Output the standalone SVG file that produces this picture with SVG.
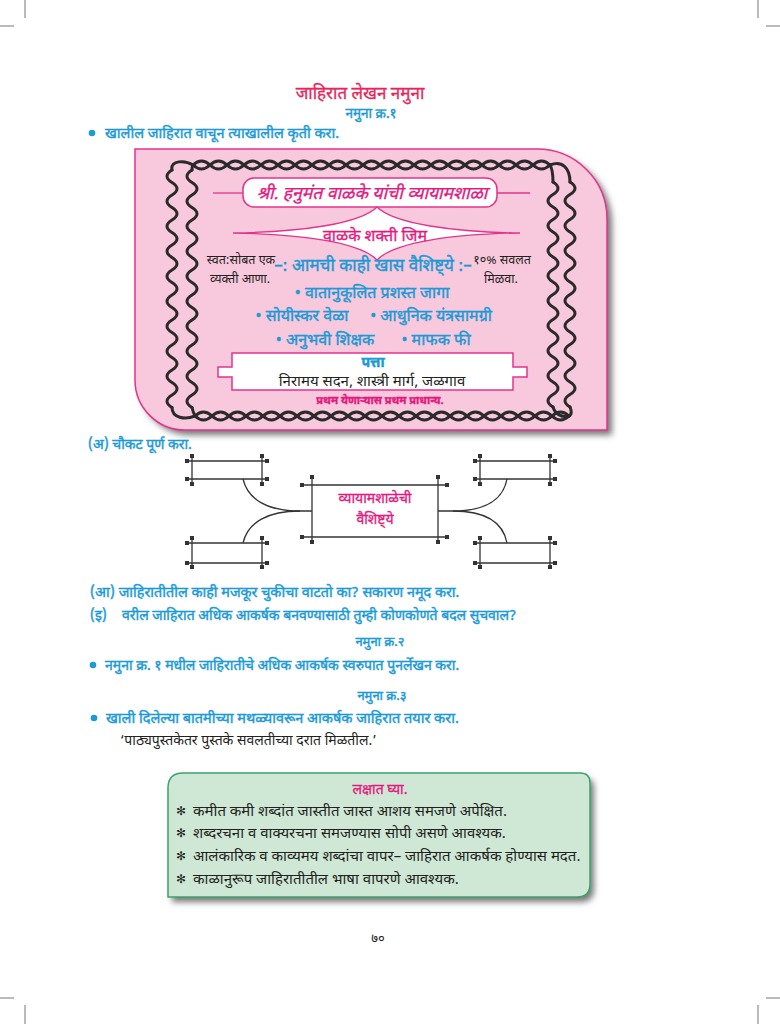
<svg xmlns="http://www.w3.org/2000/svg" xmlns:xlink="http://www.w3.org/1999/xlink" width="780" height="1024" viewBox="0 0 780 1024">
<style>
text{font-family:'Noto Sans Devanagari','Lohit Devanagari','Noto Sans','DejaVu Sans',sans-serif}
.cy{fill:#1b9ad6;stroke:#1b9ad6;stroke-width:0.45}
.mg{fill:#e4197f;stroke:#e4197f;stroke-width:0.35}
.dk{fill:#231f20}
.mid{text-anchor:middle}
.rope{fill:none;stroke:#2a2a2a;stroke-width:3;stroke-linecap:round}
.ln{fill:none;stroke:#333;stroke-width:1.3}
.bx{fill:none;stroke:#333;stroke-width:1.3;marker-start:url(#sq);marker-end:url(#sq)}
.crop{stroke:#777;stroke-width:1}
</style>
<defs>
<marker id="sq" viewBox="0 0 4 4" refX="2" refY="2" markerWidth="4.5" markerHeight="4.5" markerUnits="userSpaceOnUse"><rect width="4" height="4" fill="#333"/></marker>
<filter id="blur" x="-10%" y="-10%" width="120%" height="130%"><feGaussianBlur stdDeviation="3"/></filter>
<path id="pinkShape" d="M135 149 L537 149 A70 70 0 0 1 607 219 L607 430 L185 430 A50 50 0 0 1 135 380 Z"/>
<path id="greenShape" d="M183 773 L580 773 Q590 773 590 783 L590 884 Q590 897 577 897 L168 897 L168 788 Q168 773 183 773 Z"/>
</defs>
<rect width="780" height="1024" fill="#ffffff"/>

<g id="crop-marks">
<line class="crop" x1="25" y1="0" x2="25" y2="18"/>
<line class="crop" x1="0" y1="26" x2="14" y2="26"/>
<line class="crop" x1="758" y1="0" x2="758" y2="18"/>
<line class="crop" x1="766" y1="26" x2="780" y2="26"/>
<line class="crop" x1="0" y1="998" x2="14" y2="998"/>
<line class="crop" x1="25" y1="1005" x2="25" y2="1024"/>
<line class="crop" x1="766" y1="998" x2="780" y2="998"/>
<line class="crop" x1="758" y1="1005" x2="758" y2="1024"/>
</g>

<g id="heading">
<text x="360" y="99" class="mid" font-size="17" fill="#e8245b" stroke="#e8245b" stroke-width="0.3">जाहिरात लेखन नमुना</text>
<text x="371" y="118" class="mid cy" font-size="13.5">नमुना क्र.१</text>
<circle cx="92" cy="133" r="3.3" fill="#1b9ad6"/>
<text x="105" y="138" class="cy" font-size="14.5">खालील जाहिरात वाचून त्याखालील कृती करा.</text>
</g>

<g id="advert">
<use xlink:href="#pinkShape" transform="translate(5,5)" fill="#777" filter="url(#blur)"/>
<use xlink:href="#pinkShape" fill="#f8c8dc" stroke="#e3338c" stroke-width="1.5"/>
<g id="rope-border">
<path class="rope" d="M193 165 q8.5 -8 17 0 t17 0 t17 0 t17 0 t17 0 t17 0 t17 0 t17 0 t17 0 t17 0 t17 0 t17 0 t17 0 t17 0 t17 0 t17 0 t17 0 t17 0 t17 0 t17 0 t17 0"/>
<path class="rope" d="M193 165 q8.5 8 17 0 t17 0 t17 0 t17 0 t17 0 t17 0 t17 0 t17 0 t17 0 t17 0 t17 0 t17 0 t17 0 t17 0 t17 0 t17 0 t17 0 t17 0 t17 0 t17 0 t17 0"/>
<path class="rope" d="M195 416 q8.5 -8 17 0 t17 0 t17 0 t17 0 t17 0 t17 0 t17 0 t17 0 t17 0 t17 0 t17 0 t17 0 t17 0 t17 0 t17 0 t17 0 t17 0 t17 0 t17 0 t17 0 t17 0 t17 0"/>
<path class="rope" d="M195 416 q8.5 8 17 0 t17 0 t17 0 t17 0 t17 0 t17 0 t17 0 t17 0 t17 0 t17 0 t17 0 t17 0 t17 0 t17 0 t17 0 t17 0 t17 0 t17 0 t17 0 t17 0 t17 0 t17 0"/>
<path class="rope" d="M172 170 q-10 6.25 0 12.5 t0 12.5 t0 12.5 t0 12.5 t0 12.5 t0 12.5 t0 12.5 t0 12.5 t0 12.5 t0 12.5 t0 12.5 t0 12.5 t0 12.5 t0 12.5 t0 12.5 t0 12.5 t0 12.5 t0 12.5 t0 12.5"/>
<path class="rope" d="M192 170 q-10 6.25 0 12.5 t0 12.5 t0 12.5 t0 12.5 t0 12.5 t0 12.5 t0 12.5 t0 12.5 t0 12.5 t0 12.5 t0 12.5 t0 12.5 t0 12.5 t0 12.5 t0 12.5 t0 12.5 t0 12.5 t0 12.5 t0 12.5"/>
<path class="rope" d="M553 182 q10 6.25 0 12.5 t0 12.5 t0 12.5 t0 12.5 t0 12.5 t0 12.5 t0 12.5 t0 12.5 t0 12.5 t0 12.5 t0 12.5 t0 12.5 t0 12.5 t0 12.5 t0 12.5 t0 12.5 t0 12.5 t0 12.5"/>
<path class="rope" d="M570 182 q10 6.25 0 12.5 t0 12.5 t0 12.5 t0 12.5 t0 12.5 t0 12.5 t0 12.5 t0 12.5 t0 12.5 t0 12.5 t0 12.5 t0 12.5 t0 12.5 t0 12.5 t0 12.5 t0 12.5 t0 12.5 t0 12.5"/>
<path class="rope" d="M172 170 C170 160 185 160 193 165 M192 170 C192 167 192 166 193 165 M550 165 C562 160 570 168 570 182 M550 165 C553 170 553 175 553 182 M172 407.5 C172 418 185 420 195 416 M192 407.5 C193 412 194 414 195 416 M570 407 C572 412 571 415 569 416 M553 407 C555 414 562 418 569 416"/>
</g>
<g id="title-banner">
<line x1="213" y1="193" x2="243" y2="193" stroke="#e3338c" stroke-width="1.3"/>
<line x1="497" y1="193" x2="530" y2="193" stroke="#e3338c" stroke-width="1.3"/>
<rect x="243" y="178" width="254" height="29" rx="11" fill="#fff" stroke="#e3338c" stroke-width="1.5"/>
<text x="372" y="199" class="mid mg" font-size="17.5" font-style="italic">श्री. हनुमंत वाळके यांची व्यायामशाळा</text>
</g>
<g id="gym-banner">
<path d="M233 233 C300 232 360 224 377 207 C394 224 454 232 520 233 C454 234 394 242 377 260 C360 242 300 234 233 233 Z" fill="#fff" stroke="#e3338c" stroke-width="1.3"/>
<text x="375" y="241" class="mid mg" font-size="16">वाळके शक्ती जिम</text>
</g>
<text x="241" y="264" class="mid dk" font-size="12.5">स्वत:सोबत एक</text>
<text x="240" y="283" class="mid dk" font-size="12.5">व्यक्ती आणा.</text>
<text x="502" y="264" class="mid dk" font-size="12.5">१०% सवलत</text>
<text x="501" y="283" class="mid dk" font-size="12.5">मिळवा.</text>
<text x="373" y="271" class="mid cy" font-size="17">–: आमची काही खास वैशिष्ट्ये :–</text>
<text x="372" y="298" class="mid cy" font-size="16">• वातानुकूलित प्रशस्त जागा</text>
<text x="302" y="321" class="mid cy" font-size="16">• सोयीस्कर वेळा</text>
<text x="431" y="321" class="mid cy" font-size="16">• आधुनिक यंत्रसामग्री</text>
<text x="325" y="345" class="mid cy" font-size="16">• अनुभवी शिक्षक</text>
<text x="436" y="345" class="mid cy" font-size="16">• माफक फी</text>
<g id="address">
<path d="M232 353 L513 353 L513 367 L527 367 L527 377 L513 377 L513 390 L232 390 L232 377 L218 377 L218 367 L232 367 Z" fill="#fff" stroke="#e3338c" stroke-width="1.5"/>
<text x="373" y="367" class="mid cy" font-size="14" font-weight="bold">पत्ता</text>
<text x="372" y="386" class="mid dk" font-size="15">निरामय सदन, शास्त्री मार्ग, जळगाव</text>
</g>
<text x="380" y="404" class="mid mg" font-size="11" font-weight="bold">प्रथम येणाऱ्यास प्रथम प्राधान्य.</text>
</g>

<text x="88" y="449" class="cy" font-size="14">(अ) चौकट पूर्ण करा.</text>

<g id="connectors">
<path class="ln" d="M243 479 C248 500 268 511 300 511 L312 511"/>
<path class="ln" d="M243 543 C248 522 268 511 300 511"/>
<path class="ln" d="M438 511 L453 511 C485 511 503 500 507 479"/>
<path class="ln" d="M453 511 C485 511 503 522 507 543"/>
</g>
<g id="node-center">
<rect x="312" y="485" width="126" height="52" fill="#fff"/>
<line class="bx" x1="302" y1="485" x2="447" y2="485"/>
<line class="bx" x1="302" y1="537" x2="447" y2="537"/>
<line class="bx" x1="312" y1="477" x2="312" y2="542"/>
<line class="bx" x1="438" y1="477" x2="438" y2="542"/>
<text x="375" y="503" class="mid mg" font-size="14">व्यायामशाळेची</text>
<text x="375" y="524" class="mid mg" font-size="14">वैशिष्ट्ये</text>
</g>
<g id="node-left-top">
<line class="bx" x1="187" y1="461" x2="267" y2="461"/>
<line class="bx" x1="187" y1="479" x2="267" y2="479"/>
<line class="bx" x1="192" y1="456" x2="192" y2="484"/>
<line class="bx" x1="262" y1="456" x2="262" y2="484"/>
</g>
<g id="node-left-bottom">
<line class="bx" x1="187" y1="543" x2="267" y2="543"/>
<line class="bx" x1="187" y1="563" x2="267" y2="563"/>
<line class="bx" x1="192" y1="538" x2="192" y2="567"/>
<line class="bx" x1="262" y1="538" x2="262" y2="567"/>
</g>
<g id="node-right-top">
<line class="bx" x1="475" y1="461" x2="555" y2="461"/>
<line class="bx" x1="475" y1="479" x2="555" y2="479"/>
<line class="bx" x1="480" y1="456" x2="480" y2="484"/>
<line class="bx" x1="550" y1="456" x2="550" y2="484"/>
</g>
<g id="node-right-bottom">
<line class="bx" x1="475" y1="543" x2="555" y2="543"/>
<line class="bx" x1="475" y1="563" x2="555" y2="563"/>
<line class="bx" x1="480" y1="538" x2="480" y2="567"/>
<line class="bx" x1="550" y1="538" x2="550" y2="567"/>
</g>

<g id="questions">
<text x="90" y="597" class="cy" font-size="14.4">(आ) जाहिरातीतील काही मजकूर चुकीचा वाटतो का? सकारण नमूद करा.</text>
<text x="90" y="620" class="cy" font-size="14">(इ)</text>
<text x="122" y="620" class="cy" font-size="14">वरील जाहिरात अधिक आकर्षक बनवण्यासाठी तुम्ही कोणकोणते बदल सुचवाल?</text>
<text x="380" y="646" class="mid cy" font-size="13">नमुना क्र.२</text>
<circle cx="93" cy="665" r="3.3" fill="#1b9ad6"/>
<text x="105" y="670" class="cy" font-size="14">नमुना क्र. १ मधील जाहिरातीचे अधिक आकर्षक स्वरुपात पुनर्लेखन करा.</text>
<text x="382" y="700" class="mid cy" font-size="13">नमुना क्र.३</text>
<circle cx="94" cy="718" r="3.3" fill="#1b9ad6"/>
<text x="106" y="723" class="cy" font-size="14.5">खाली दिलेल्या बातमीच्या मथळ्यावरून आकर्षक जाहिरात तयार करा.</text>
<text x="120" y="745" class="dk" font-size="14">‘पाठ्यपुस्तकेतर पुस्तके सवलतीच्या दरात मिळतील.’</text>
</g>

<g id="note-box">
<use xlink:href="#greenShape" transform="translate(4,5)" fill="#777" filter="url(#blur)"/>
<use xlink:href="#greenShape" fill="#cfe8d6" stroke="#3aa36a" stroke-width="1.5"/>
<text x="380" y="794" class="mid mg" font-size="14">लक्षात घ्या.</text>
<text x="176" y="815" class="dk" font-size="12">✻</text>
<text x="193" y="816" class="dk" font-size="15">कमीत कमी शब्दांत जास्तीत जास्त आशय समजणे अपेक्षित.</text>
<text x="176" y="837" class="dk" font-size="12">✻</text>
<text x="193" y="838" class="dk" font-size="15">शब्दरचना व वाक्यरचना समजण्यास सोपी असणे आवश्यक.</text>
<text x="176" y="860" class="dk" font-size="12">✻</text>
<text x="193" y="861" class="dk" font-size="15">आलंकारिक व काव्यमय शब्दांचा वापर– जाहिरात आकर्षक होण्यास मदत.</text>
<text x="176" y="883" class="dk" font-size="12">✻</text>
<text x="193" y="884" class="dk" font-size="15">काळानुरूप जाहिरातीतील भाषा वापरणे आवश्यक.</text>
</g>

<text x="378" y="943" class="mid dk" font-size="13">७०</text>
</svg>
